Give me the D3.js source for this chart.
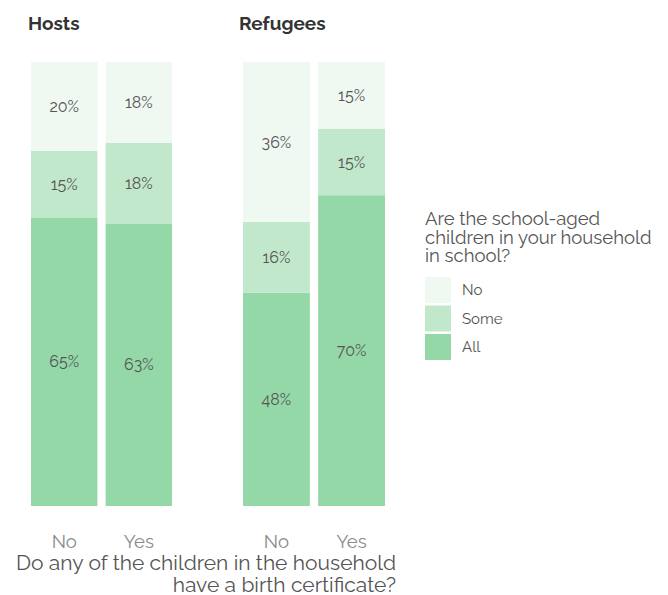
<!DOCTYPE html>
<html><head><meta charset="utf-8">
<script src="https://cdn.jsdelivr.net/npm/d3@7"></script>
<style>body{margin:0;background:#fff}svg{display:block}</style>
</head><body><svg id="c" width="668" height="595"></svg>
<script>
const panels = ["Hosts", "Refugees"];
const categories = ["No", "Yes"];
const keys = ["All", "Some", "No"];
const hostsNo  = {All: 65, Some: 15, No: 20};
const hostsYes = {All: 63, Some: 18, No: 18};
const refNo    = {All: 48, Some: 16, No: 36};
const refYes   = {All: 70, Some: 15, No: 15};
const legendLabels = ["No", "Some", "All"];
const legendTitle = ["Are the school-aged", "children in your household", "in school?"];
const axisTitle = ["Do any of the children in the household", "have a birth certificate?"];

const data = {
  Hosts: [Object.assign({cat: "No"}, hostsNo), Object.assign({cat: "Yes"}, hostsYes)],
  Refugees: [Object.assign({cat: "No"}, refNo), Object.assign({cat: "Yes"}, refYes)]
};
const color = d3.scaleOrdinal().domain(["No", "Some", "All"]).range(["#eff8f1", "#c2e8cb", "#95d8a8"]);
const font = "Raleway, 'Open Sans', sans-serif";
const svg = d3.select("#c");
const panelX = {Hosts: [31, 172], Refugees: [243, 385]};
const titleX = {Hosts: 28, Refugees: 239};
const y = d3.scaleLinear().domain([0, 1]).range([506, 62]);
const stack = d3.stack().keys(keys).offset(d3.stackOffsetExpand);

panels.forEach(p => {
  const x = d3.scaleBand().domain(categories).range(panelX[p]).paddingInner(0.11);
  const g = svg.append("g");
  g.append("text").attr("x", titleX[p]).attr("y", 30).text(p)
    .attr("font-family", font).attr("font-weight", "bold").attr("font-size", 19).attr("fill", "#333");
  const series = stack(data[p]);
  series.forEach(s => {
    s.forEach(d => {
      const val = d.data[s.key];
      g.append("rect").attr("x", x(d.data.cat)).attr("width", x.bandwidth())
        .attr("y", y(d[1])).attr("height", y(d[0]) - y(d[1])).attr("fill", color(s.key));
      g.append("text").attr("x", x(d.data.cat) + x.bandwidth() / 2)
        .attr("y", (y(d[0]) + y(d[1])) / 2).attr("dy", "0.35em")
        .attr("text-anchor", "middle").attr("font-family", font).attr("font-size", 16)
        .attr("fill", "#555").text(val + "%");
    });
  });
  const ax = g.append("g").attr("transform", "translate(0,506)").call(d3.axisBottom(x).tickSize(0).tickPadding(29));
  ax.select(".domain").remove();
  ax.selectAll("text").attr("font-family", font).attr("font-size", 18.5).attr("fill", "#8a8a8a");
});

axisTitle.forEach((t, i) => {
  svg.append("text").attr("x", 396).attr("y", 570 + i * 22).attr("text-anchor", "end")
    .attr("font-family", font).attr("font-size", 21).attr("fill", "#555").text(t);
});

legendTitle.forEach((t, i) => {
  svg.append("text").attr("x", 425).attr("y", 225 + i * 18.5)
    .attr("font-family", font).attr("font-size", 18.5).attr("fill", "#555").text(t);
});
legendLabels.forEach((l, i) => {
  svg.append("rect").attr("x", 425).attr("y", 277 + i * 28.5).attr("width", 26).attr("height", 26).attr("fill", color(l));
  svg.append("text").attr("x", 462).attr("y", 290 + i * 28.5).attr("dy", "0.35em")
    .attr("font-family", font).attr("font-size", 15).attr("fill", "#555").text(l);
});
</script></body></html>
